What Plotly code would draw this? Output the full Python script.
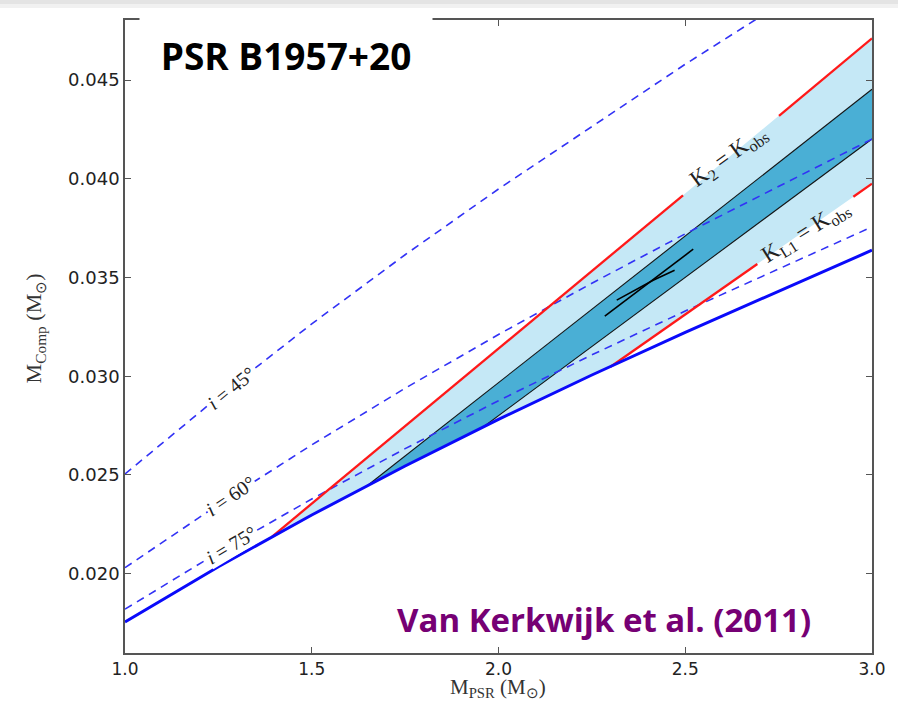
import plotly.graph_objects as go

# Pulsar mass (x) grid shared by the inclination curves
m_psr = [1.0, 1.25, 1.5, 1.75, 2.0, 2.25, 2.5, 2.75, 3.0]

# Companion mass from the mass function for several inclinations
m_comp_i90 = [0.01755, 0.02035, 0.02297, 0.02545, 0.02781, 0.03006, 0.03222, 0.03432, 0.03638]
m_comp_i75 = [0.01820, 0.02108, 0.02378, 0.02633, 0.02876, 0.03108, 0.03330, 0.03545, 0.03756]
m_comp_i60 = [0.02030, 0.02350, 0.02652, 0.02939, 0.03211, 0.03471, 0.03721, 0.03963, 0.04201]
m_comp_i45 = [0.02505, 0.02895, 0.03265, 0.03615, 0.03948, 0.04266, 0.04580, 0.04880, 0.05170]

# K2 = K_obs boundary (upper red), drawn in two pieces around its label
k2_x = [1.394, 2.494, None, 2.751, 3.0]
k2_y = [0.02188, 0.03916, None, 0.04319, 0.04711]
# K_L1 = K_obs boundary (lower red)
kl1_x = [2.300, 2.693, None, 2.950, 3.0]
kl1_y = [0.03048, 0.03568, None, 0.03909, 0.03975]

# Edges of the preferred (darker) band
band_hi_x = [1.645, 3.0]
band_hi_y = [0.02440, 0.04453]
band_lo_x = [1.960, 3.0]
band_lo_y = [0.02744, 0.04201]

# Best-estimate marker segments
mark_a_x = [2.2846, 2.5213]
mark_a_y = [0.03304, 0.03643]
mark_b_x = [2.3165, 2.4141, 2.4715]
mark_b_y = [0.03385, 0.03486, 0.03537]

x_ticks = [1.0, 1.5, 2.0, 2.5, 3.0]
y_ticks = [0.020, 0.025, 0.030, 0.035, 0.040, 0.045]

# Polygons for the shaded regions
def solid_between(x0, x1):
    return [(x, y) for x, y in zip(m_psr, m_comp_i90) if x0 < x < x1]

light_pts = [(k2_x[0], k2_y[0]), (k2_x[-1], k2_y[-1]), (kl1_x[-1], kl1_y[-1]), (kl1_x[0], kl1_y[0])]
light_pts += solid_between(k2_x[0], kl1_x[0])[::-1]
dark_pts = [(band_hi_x[0], band_hi_y[0]), (band_hi_x[1], band_hi_y[1]),
            (band_lo_x[1], band_lo_y[1]), (band_lo_x[0], band_lo_y[0])]
dark_pts += solid_between(band_hi_x[0], band_lo_x[0])[::-1]

LIGHT = "rgb(197,232,246)"
DARK = "rgb(74,175,213)"
RED = "rgb(255,25,25)"
BLUE = "rgb(10,10,250)"
DASH_BLUE = "rgb(50,50,245)"

fig = go.Figure()

for pts, col in [(light_pts, LIGHT), (dark_pts, DARK)]:
    fig.add_trace(go.Scatter(
        x=[p[0] for p in pts] + [pts[0][0]], y=[p[1] for p in pts] + [pts[0][1]],
        mode="lines", fill="toself", fillcolor=col, line=dict(width=0),
        hoverinfo="skip", showlegend=False))

for xs, ys in [(band_hi_x, band_hi_y), (band_lo_x, band_lo_y)]:
    fig.add_trace(go.Scatter(x=xs, y=ys, mode="lines",
                             line=dict(color="rgb(20,20,20)", width=1.1), showlegend=False))

for ys in [m_comp_i45, m_comp_i60, m_comp_i75]:
    fig.add_trace(go.Scatter(x=m_psr, y=ys, mode="lines",
                             line=dict(color=DASH_BLUE, width=1.6, dash="8px,6px"), showlegend=False))

for xs, ys in [(k2_x, k2_y), (kl1_x, kl1_y)]:
    fig.add_trace(go.Scatter(x=xs, y=ys, mode="lines", connectgaps=False,
                             line=dict(color=RED, width=2.3), showlegend=False))

fig.add_trace(go.Scatter(x=m_psr, y=m_comp_i90, mode="lines",
                         line=dict(color=BLUE, width=3), showlegend=False))

for xs, ys in [(mark_a_x, mark_a_y), (mark_b_x, mark_b_y)]:
    fig.add_trace(go.Scatter(x=xs, y=ys, mode="lines",
                             line=dict(color="black", width=1.6), showlegend=False))

SERIF = "Liberation Serif"
lab_font = dict(family=SERIF, size=20, color="#222")
annotations = [
    dict(x=1.2846, y=0.02939, text="<i>i</i> = 45°", textangle=-39),
    dict(x=1.2819, y=0.02395, text="<i>i</i> = 60°", textangle=-34),
    dict(x=1.2846, y=0.02143, text="<i>i</i> = 75°", textangle=-31),
]
for a in annotations:
    fig.add_annotation(xref="x", yref="y", showarrow=False, font=lab_font,
                       xanchor="center", yanchor="middle",
                       bgcolor="white", borderpad=0, **a)

k_font = dict(family=SERIF, size=23, color="#222")
fig.add_annotation(x=2.617, y=0.04109, xref="x", yref="y", showarrow=False,
                   xanchor="center", yanchor="middle",
                   text="K<sub>2</sub> = K<sub>obs</sub>", textangle=-36, font=k_font)
fig.add_annotation(x=2.8245, y=0.03729, xref="x", yref="y", showarrow=False,
                   xanchor="center", yanchor="middle",
                   text="K<sub>L1</sub> = K<sub>obs</sub>", textangle=-32, font=k_font)

# Axis titles
fig.add_annotation(x=0.4993, y=-0.0555, xref="paper", yref="paper", showarrow=False,
                   xanchor="center", yanchor="middle",
                   text="M<sub>PSR</sub> (M<sub>⊙</sub>)", font=dict(family=SERIF, size=21, color="#333"))
fig.add_annotation(x=-0.12, y=0.5134, xref="paper", yref="paper", showarrow=False, textangle=-90,
                   xanchor="center", yanchor="middle",
                   text="M<sub>Comp</sub> (M<sub>⊙</sub>)", font=dict(family=SERIF, size=22, color="#333"))

# Title and reference
fig.add_annotation(x=0.2157, y=0.945, xref="paper", yref="paper", showarrow=False,
                   xanchor="center", yanchor="middle",
                   text="<b>PSR B1957+20</b>", font=dict(family="Open Sans", size=37, color="black"),
                   bgcolor="white", width=290, height=80)
fig.add_annotation(x=0.6411, y=0.0537, xref="paper", yref="paper", showarrow=False,
                   xanchor="center", yanchor="middle",
                   text="<b>Van Kerkwijk et al. (2011)</b>",
                   font=dict(family="Open Sans", size=33, color="rgb(118,0,116)"))

# Faint band along the top edge of the page
for y0, y1, c in [(1.0316, 1.0253, "#e4e4e4"), (1.0253, 1.0190, "#f1f1f1")]:
    fig.add_shape(type="rect", xref="paper", yref="paper", x0=-0.2, x1=1.05, y0=y1, y1=y0,
                  fillcolor=c, line=dict(width=0), layer="below")

axis_common = dict(showline=True, linecolor="#555", linewidth=1.6, mirror="ticks",
                   ticks="inside", ticklen=6, tickwidth=1.2, tickcolor="#555",
                   showgrid=False, zeroline=False,
                   tickfont=dict(family="DejaVu Sans", size=17, color="#222"))
fig.update_xaxes(range=[1.0, 3.0], tickvals=x_ticks, ticktext=[f"{v:.1f}" for v in x_ticks], **axis_common)
fig.update_yaxes(range=[0.01598, 0.04804], tickvals=y_ticks, ticktext=[f"{v:.3f}" for v in y_ticks],
                 tickfont=dict(family="DejaVu Sans", size=18, color="#222"),
                 **{k: v for k, v in axis_common.items() if k != "tickfont"})

fig.update_layout(width=898, height=702, autosize=False,
                  margin=dict(l=125, r=22, t=20, b=49),
                  paper_bgcolor="white", plot_bgcolor="white", showlegend=False)

fig.write_html("out.html")
